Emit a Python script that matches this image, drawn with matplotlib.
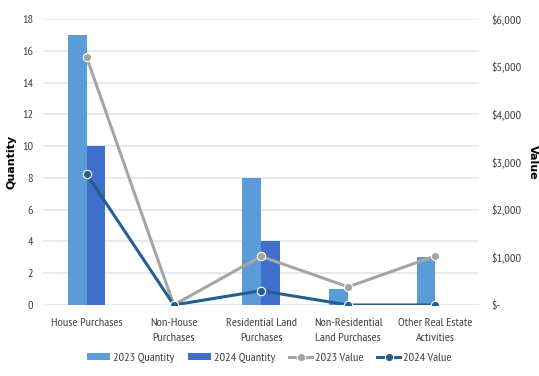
import numpy as np
import matplotlib.pyplot as plt
from matplotlib.ticker import FuncFormatter

plt.rcParams['font.family'] = ['PT Sans Narrow', 'DejaVu Sans']

# --- data ---
categories = ["House Purchases", "Non-House\nPurchases", "Residential Land\nPurchases",
              "Non-Residential\nLand Purchases", "Other Real Estate\nActivities"]
qty_2023 = [17, 0, 8, 1, 3]
qty_2024 = [10, 0, 4, 0, 0]
value_2023 = [5200, 0, 1020, 380, 1030]
value_2024 = [2750, 0, 300, 0, 0]

c23 = '#5a9bd8'
c24 = '#3f6fca'
c_line23 = '#a5a5a5'
c_line24 = '#255e91'
grid_c = '#dde4ee'
txt_c = '#404040'
fs = 8.8

fig = plt.figure(figsize=(5.39, 3.76), dpi=100)
ax = fig.add_axes([43 / 539, 1 - 305 / 376, 436 / 539, 286 / 376])
ax2 = ax.twinx()

x = np.arange(len(categories))
w = 0.215
ax.bar(x - w / 2, qty_2023, width=w, color=c23, label='2023 Quantity', zorder=2)
ax.bar(x + w / 2, qty_2024, width=w, color=c24, label='2024 Quantity', zorder=2)

ax2.plot(x, value_2023, color=c_line23, lw=2.2, marker='o', ms=6,
         mfc=c_line23, mec='white', mew=0.8, label='2023 Value', zorder=3)
ax2.plot(x, value_2024, color=c_line24, lw=2.2, marker='o', ms=6,
         mfc=c_line24, mec='white', mew=0.8, label='2024 Value', zorder=4)

ax.set_xlim(-0.5, len(categories) - 0.5)
ax.set_ylim(0, 18)
ax.set_yticks(range(0, 19, 2))
ax2.set_ylim(0, 6000)
ax2.set_yticks(range(0, 6001, 1000))
ax2.yaxis.set_major_formatter(FuncFormatter(lambda v, p: '$-' if v == 0 else f'${v:,.0f}'))

ax.set_axisbelow(True)
ax.grid(axis='y', color=grid_c, lw=1.1)
for a in (ax, ax2):
    for s in a.spines.values():
        s.set_visible(False)
    a.tick_params(length=0, labelsize=fs, colors=txt_c)

ax.set_xticks(x)
ax.set_xticklabels(categories, fontsize=fs, color=txt_c, linespacing=1.7)
ax.tick_params(axis='x', pad=9)
ax.tick_params(axis='y', pad=7)
ax2.tick_params(axis='y', pad=8.5)

ax.set_ylabel('Quantity', fontsize=8, fontweight='bold', family='DejaVu Sans', color='black', labelpad=4)
ax2.set_ylabel('Value', fontsize=8, fontweight='bold', family='DejaVu Sans', color='black',
               rotation=270, labelpad=12)

h1, l1 = ax.get_legend_handles_labels()
h2, l2 = ax2.get_legend_handles_labels()
fig.legend(h1 + h2, l1 + l2, loc='center', bbox_to_anchor=(0.5, 1 - 358 / 376), ncol=4,
           frameon=False, fontsize=fs, handlelength=1.9, handleheight=0.55, handletextpad=0.25,
           columnspacing=1.1, labelcolor=txt_c)

fig.savefig('out.png', dpi=100)
